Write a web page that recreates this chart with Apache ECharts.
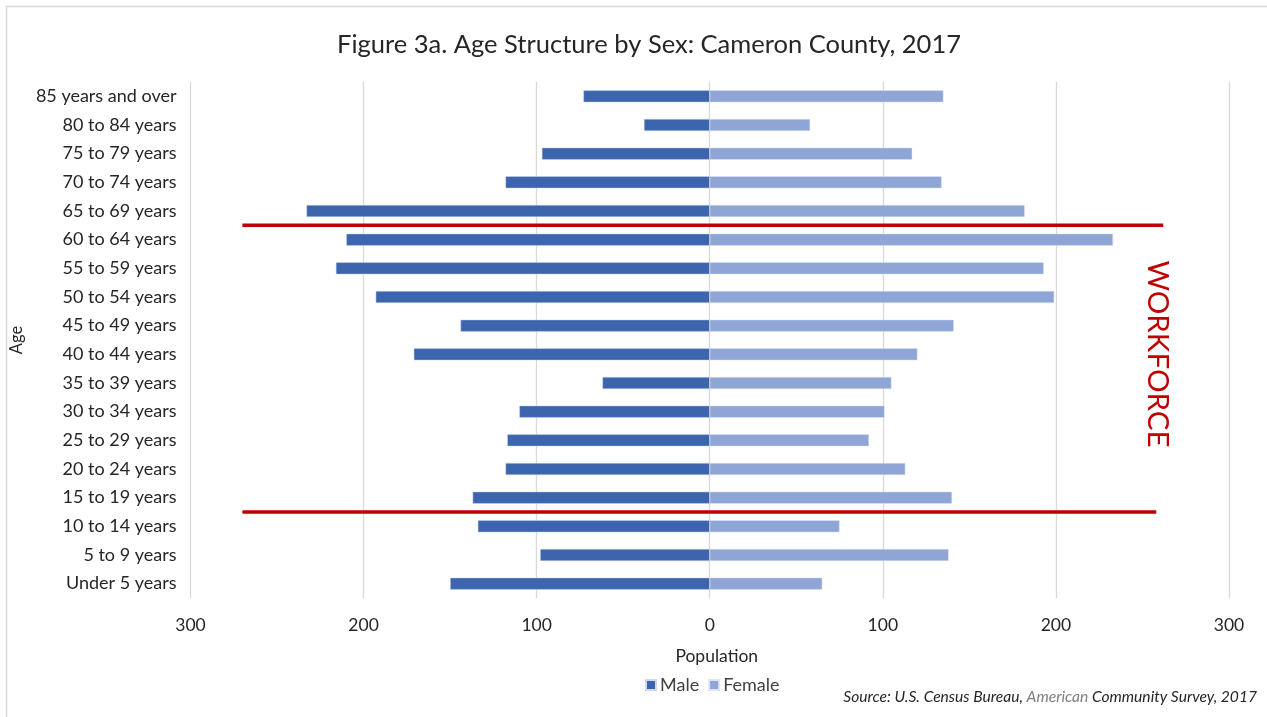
<!DOCTYPE html>
<html>
<head>
<meta charset="utf-8">
<title>Age Structure by Sex</title>
<script src="https://cdn.jsdelivr.net/npm/echarts@6/dist/echarts.min.js"></script>
<style>
  html, body { margin: 0; padding: 0; background: #fff; }
  #chart { width: 1267px; height: 717px; }
</style>
</head>
<body>
<div id="chart"></div>
<script>
// age groups, bottom to top (category axis starts at the bottom)
const ageGroups = ['Under 5 years', '5 to 9 years', '10 to 14 years', '15 to 19 years',
  '20 to 24 years', '25 to 29 years', '30 to 34 years', '35 to 39 years', '40 to 44 years',
  '45 to 49 years', '50 to 54 years', '55 to 59 years', '60 to 64 years', '65 to 69 years',
  '70 to 74 years', '75 to 79 years', '80 to 84 years', '85 years and over'];
const male = [150, 98, 134, 137, 118, 117, 110, 62, 171, 144, 193, 216, 210, 233, 118, 97, 38, 73];
const female = [65, 138, 75, 140, 113, 92, 101, 105, 120, 141, 199, 193, 233, 182, 134, 117, 58, 135];
// workforce band: lines drawn between these pairs of groups
const workforceEdges = [['10 to 14 years', '15 to 19 years'], ['60 to 64 years', '65 to 69 years']];
const workforceSpan = [[-270, 258], [-270, 262]];

const FONT = 'Lato, "Open Sans", sans-serif';
const chart = echarts.init(document.getElementById('chart'));

chart.setOption({
  animation: false,
  textStyle: { fontFamily: FONT },
  title: {
    text: 'Figure 3a. Age Structure by Sex: Cameron County, 2017',
    left: 644, top: 27, textAlign: 'center',
    textStyle: { fontFamily: FONT, fontSize: 25.5, fontWeight: 'normal', color: '#262626' }
  },
  legend: {
    data: ['Male', 'Female'],
    left: 640, top: 671,
    itemWidth: 10, itemHeight: 10, itemGap: 9,
    icon: 'rect',
    textStyle: { fontFamily: FONT, fontSize: 18, color: '#404040', padding: [0, 0, 0, -1] }
  },
  grid: { left: 189, right: 38, top: 82, bottom: 119, containLabel: false },
  xAxis: {
    type: 'value', min: -300, max: 300, interval: 100,
    name: 'Population', nameLocation: 'middle', nameGap: 49,
    nameTextStyle: { fontFamily: FONT, fontSize: 17.5, color: '#262626', padding: [0, 0, 0, 14] },
    axisLine: { show: false }, axisTick: { show: false },
    splitLine: { lineStyle: { color: '#d9d9d9', width: 1.3 } },
    axisLabel: { fontFamily: FONT, fontSize: 17.5, color: '#262626', margin: 18,
      formatter: v => Math.abs(v) }
  },
  yAxis: {
    type: 'category', data: ageGroups,
    name: 'Age', nameLocation: 'middle', nameGap: 160, nameRotate: 90,
    nameTextStyle: { fontFamily: FONT, fontSize: 16.5, color: '#262626' },
    axisLine: { show: false }, axisTick: { show: false },
    axisLabel: { fontFamily: FONT, fontSize: 18, color: '#262626', margin: 14 }
  },
  series: [
    {
      name: 'Male', type: 'bar', stack: 'pop', barWidth: '42%',
      itemStyle: { color: '#3c65ad', borderColor: '#cfd8ea', borderWidth: 0.5 },
      data: male.map(v => -v)
    },
    {
      name: 'Female', type: 'bar', stack: 'pop', barWidth: '42%',
      itemStyle: { color: '#8fa5d6', borderColor: '#dde4f2', borderWidth: 0.5 },
      data: female
    }
  ]
});

// red workforce lines, placed through the chart's own scales
const lines = workforceEdges.map((pair, i) => {
  const a = chart.convertToPixel({ gridIndex: 0 }, [0, pair[0]]);
  const b = chart.convertToPixel({ gridIndex: 0 }, [0, pair[1]]);
  const y = (a[1] + b[1]) / 2;
  const x1 = chart.convertToPixel({ gridIndex: 0 }, [workforceSpan[i][0], pair[0]])[0];
  const x2 = chart.convertToPixel({ gridIndex: 0 }, [workforceSpan[i][1], pair[0]])[0];
  return {
    type: 'line', z: 100,
    shape: { x1: x1, y1: y, x2: x2, y2: y },
    style: { stroke: '#c00000', lineWidth: 3.5 }
  };
});

chart.setOption({
  graphic: [
    {
      type: 'rect', silent: true, z: -1,
      shape: { x: 6.5, y: 6.5, width: 1300, height: 800 },
      style: { fill: null, stroke: '#d9d9d9', lineWidth: 1.5 }
    },
    ...lines,
    {
      type: 'text', z: 100,
      x: 1158, y: 354, rotation: -Math.PI / 2,
      style: { text: 'WORKFORCE', fontFamily: FONT, fontSize: 29.5, fill: '#c00000',
        align: 'center', verticalAlign: 'middle' }
    },
    {
      type: 'text',
      x: 1257, y: 697,
      style: {
        text: '{b|Source: U.S. Census Bureau, }{g|American}{b| Community Survey, 2017}',
        align: 'right', verticalAlign: 'middle',
        rich: {
          b: { fontFamily: FONT, fontSize: 15.6, fontStyle: 'italic', fill: '#262626' },
          g: { fontFamily: FONT, fontSize: 15.6, fontStyle: 'italic', fill: '#7f7f7f' }
        }
      }
    }
  ]
});
</script>
</body>
</html>
